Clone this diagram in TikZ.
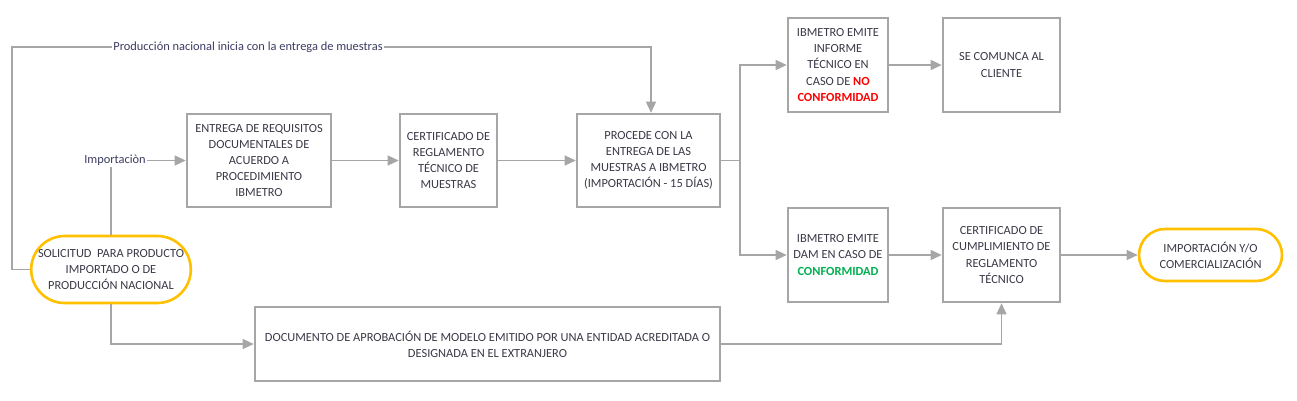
\documentclass[tikz,border=0pt]{standalone}
\usepackage{fontspec}
\setmainfont{Carlito}
\usetikzlibrary{arrows.meta,shapes.misc}
\definecolor{ln}{HTML}{A6A6A6}
\definecolor{tx}{HTML}{3A3A48}
\definecolor{lbl}{HTML}{3C3C64}
\definecolor{org}{HTML}{FFC000}
\definecolor{nored}{HTML}{FF0000}
\definecolor{okgreen}{HTML}{00B050}
\begin{document}
\begin{tikzpicture}[x=1pt,y=-1pt,
  every node/.style={font=\fontsize{12.4}{16.2}\selectfont, text=tx, align=center, inner sep=1pt},
  box/.style={draw=ln, line width=2.6pt, fill=white},
  term/.style={draw=org, line width=2.6pt, rounded rectangle, fill=white},
  conn/.style={draw=ln, line width=1.4pt},
  arr/.style={conn, -{Triangle[length=11pt,width=10pt]}},
  lab/.style={fill=white, text=lbl, inner sep=1pt}]
\useasboundingbox (0,0) rectangle (1297,400);

\node[term, minimum width=158pt, minimum height=67pt, inner xsep=0pt] (sol) at (111,269.5)
  {SOLICITUD\ \ PARA PRODUCTO\\IMPORTADO O DE\\PRODUCCIÓN NACIONAL};
\node[box, minimum width=144pt, minimum height=93pt] (b1) at (259,160.5)
  {ENTREGA DE REQUISITOS\\DOCUMENTALES DE\\ACUERDO A\\PROCEDIMIENTO\\IBMETRO};
\node[box, minimum width=97pt, minimum height=93pt] (b2) at (448.5,160.5)
  {CERTIFICADO DE\\REGLAMENTO\\TÉCNICO DE\\MUESTRAS};
\node[box, minimum width=143pt, minimum height=93pt] (b3) at (648.5,160.5)
  {PROCEDE CON LA\\ENTREGA DE LAS\\MUESTRAS A IBMETRO\\(IMPORTACIÓN - 15 DÍAS)};
\node[box, minimum width=100pt, minimum height=94pt] (b4) at (838,65)
  {IBMETRO EMITE\\INFORME\\TÉCNICO EN\\CASO DE \textcolor{nored}{\textbf{NO}}\\\textcolor{nored}{\textbf{CONFORMIDAD}}};
\node[box, minimum width=117pt, minimum height=94pt] (b5) at (1001.5,65)
  {SE COMUNCA AL\\CLIENTE};
\node[box, minimum width=100pt, minimum height=94pt] (b6) at (838,255)
  {IBMETRO EMITE\\DAM EN CASO DE\\\textcolor{okgreen}{\textbf{CONFORMIDAD}}};
\node[box, minimum width=117pt, minimum height=94pt] (b7) at (1001.5,255)
  {CERTIFICADO DE\\CUMPLIMIENTO DE\\REGLAMENTO\\TÉCNICO};
\node[term, minimum width=145pt, minimum height=52pt] (fin) at (1210.5,255)
  {IMPORTACIÓN Y/O\\COMERCIALIZACIÓN};
\node[box, minimum width=465pt, minimum height=74pt] (b8) at (487.5,344)
  {DOCUMENTO DE APROBACIÓN DE MODELO EMITIDO POR UNA ENTIDAD ACREDITADA O\\DESIGNADA EN EL EXTRANJERO};

% top route
\coordinate (tl) at (12,47);
\coordinate (tr) at (651,47);
\draw[arr] (sol.west) -| (tl) -- (tr) -- (tr |- b3.north);
\node[lab] (lprod) at (248,47) {Producción nacional inicia con la entrega de muestras};

% importacion
\coordinate (ic) at (111,160.5);
\draw[arr] (sol.north) -- (ic) -- (b1.west);
\node[lab] (limp) at (115,160.5) {Importaciòn};

\draw[arr] (b1.east) -- (b2.west);
\draw[arr] (b2.east) -- (b3.west);

\coordinate (sp) at (740,160.5);
\draw[conn] (b3.east) -- (sp);
\draw[arr] (sp) |- (b4.west);
\draw[arr] (sp) |- (b6.west);
\draw[arr] (b4.east) -- (b5.west);
\draw[arr] (b6.east) -- (b7.west);
\draw[arr] (b7.east) -- (fin.west);

\draw[arr] (sol.south) |- (b8.west);
\draw[arr] (b8.east) -| (b7.south);
\end{tikzpicture}
\end{document}
